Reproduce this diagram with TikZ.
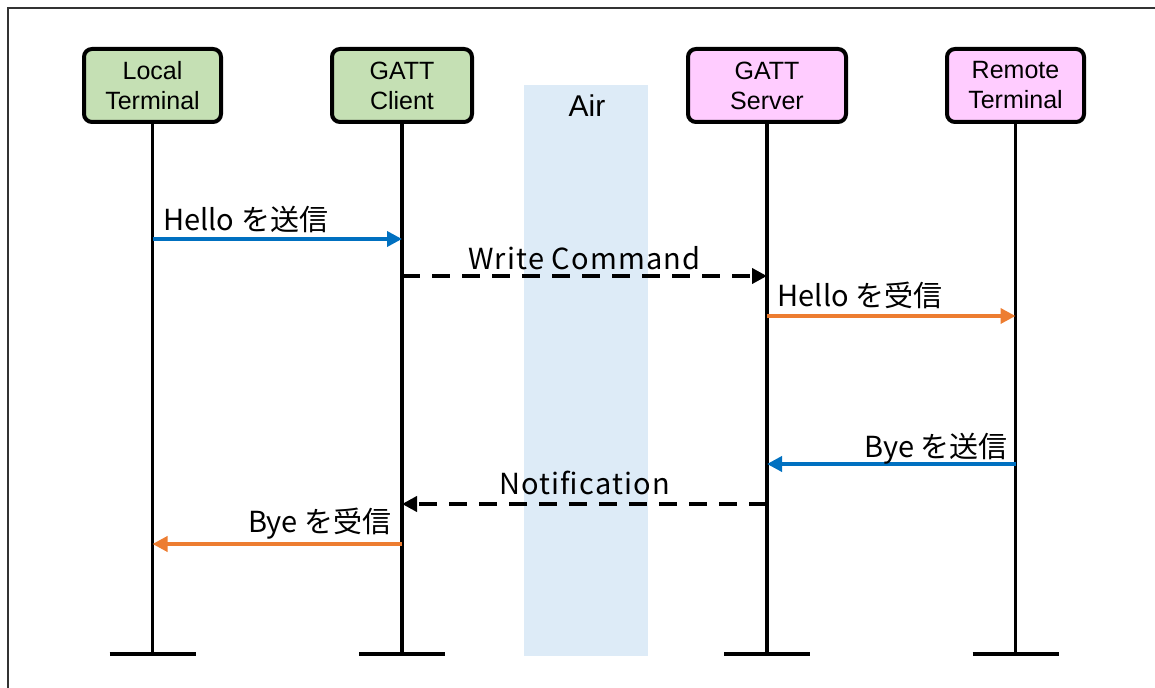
\documentclass[tikz,border=0pt]{standalone}
\usepackage{fontspec}
\setmainfont{Liberation Sans}
\newfontfamily\jpfont{Noto Sans CJK JP}
\newfontfamily\jpwide[LetterSpace=4]{Noto Sans CJK JP}
\usetikzlibrary{arrows.meta}
\usetikzlibrary{positioning}
\definecolor{localgreen}{HTML}{C5E0B4}
\definecolor{remotepink}{HTML}{FFCCFF}
\definecolor{airblue}{HTML}{DDEBF7}
\definecolor{sendblue}{HTML}{0070C0}
\definecolor{recvorange}{HTML}{ED7D31}
\tikzset{
% Define standard arrow tip
>={Triangle[length=7.5pt, width=7.5pt]},
actor/.style={rectangle, rounded corners=4pt, draw=black, line width=2pt,
  minimum height=36.5pt, align=center, inner sep=0,
  font=\fontsize{12.5}{15}\selectfont},
lifeline/.style={draw=black, line width=1.6pt},
endbar/.style={draw=black, line width=2.2pt},
msg/.style={->, line width=1.8pt},
airmsg/.style={->, draw=black, line width=2pt, dash pattern=on 9pt off 6pt},
msglabel/.style={font=\jpfont\fontsize{14.5}{17}\selectfont, inner sep=0, text=black},
airlabel/.style={font=\jpwide\fontsize{14.5}{17}\selectfont, inner sep=0, text=black}
}
\begin{document}
\begin{tikzpicture}[x=0.5pt, y=-0.5pt]
  \useasboundingbox (0,0) rectangle (1155,688);
  \draw[line width=0.8pt, black!80] (8,688) -- (8,8) -- (1155,8);

  % air
  \fill[airblue] (524,85) rectangle (648,656);
  \node[font=\fontsize{15}{17}\selectfont, inner sep=0] (air) at (587,106) {Air};

  % actors
  \node[actor, fill=localgreen, minimum width=68.5pt] (lterm) at (152.5,85.5) {Local\\Terminal};
  \node[actor, fill=localgreen, minimum width=70pt] (gclient) at (402,85.5) {GATT\\Client};
  \node[actor, fill=remotepink, minimum width=79pt] (gserver) at (767,85.5) {GATT\\Server};
  \node[actor, fill=remotepink, minimum width=68.5pt] (rterm) at (1015.5,85.5) {Remote\\Terminal};

  % lifelines
  \foreach \who in {lterm, gclient, gserver, rterm} {
    \coordinate (\who-end) at (\who.south |- 0,654);
    \draw[lifeline] (\who.south) -- (\who-end);
    \draw[endbar] ([xshift=-21.5pt]\who-end) -- ([xshift=21.5pt]\who-end);
  }

  % message points
  \coordinate (lterm-hello) at (lterm.south |- 0,239);
  \coordinate (gclient-hello) at (gclient.south |- 0,239);
  \coordinate (gclient-write) at (gclient.south |- 0,276);
  \coordinate (gserver-write) at (gserver.south |- 0,276);
  \coordinate (gserver-hello) at (gserver.south |- 0,316);
  \coordinate (rterm-hello) at (rterm.south |- 0,316);
  \coordinate (rterm-bye) at (rterm.south |- 0,464);
  \coordinate (gserver-bye) at (gserver.south |- 0,464);
  \coordinate (gserver-notify) at (gserver.south |- 0,504);
  \coordinate (gclient-notify) at (gclient.south |- 0,504);
  \coordinate (gclient-bye) at (gclient.south |- 0,544);
  \coordinate (lterm-bye) at (lterm.south |- 0,544);

  % hello
  \draw[msg, sendblue] (lterm-hello) -- node[msglabel, pos=0, anchor=base west, xshift=4.5pt, yshift=4pt]{Hello を送信} (gclient-hello);
  \draw[airmsg] (gclient-write) -- node[airlabel, midway, anchor=base, yshift=3pt]{Write Command} (gserver-write);
  \draw[msg, recvorange] (gserver-hello) -- node[msglabel, pos=0, anchor=base west, xshift=4.5pt, yshift=4.5pt]{Hello を受信} (rterm-hello);

  % bye
  \draw[msg, sendblue] (rterm-bye) -- node[msglabel, pos=0, anchor=base east, xshift=-3pt, yshift=3pt]{Bye を送信} (gserver-bye);
  \draw[airmsg] (gserver-notify) -- node[airlabel, midway, anchor=base, yshift=4.5pt]{Notification} (gclient-notify);
  \draw[msg, recvorange] (gclient-bye) -- node[msglabel, pos=0, anchor=base east, xshift=-4.5pt, yshift=5.5pt]{Bye を受信} (lterm-bye);
\end{tikzpicture}
\end{document}
